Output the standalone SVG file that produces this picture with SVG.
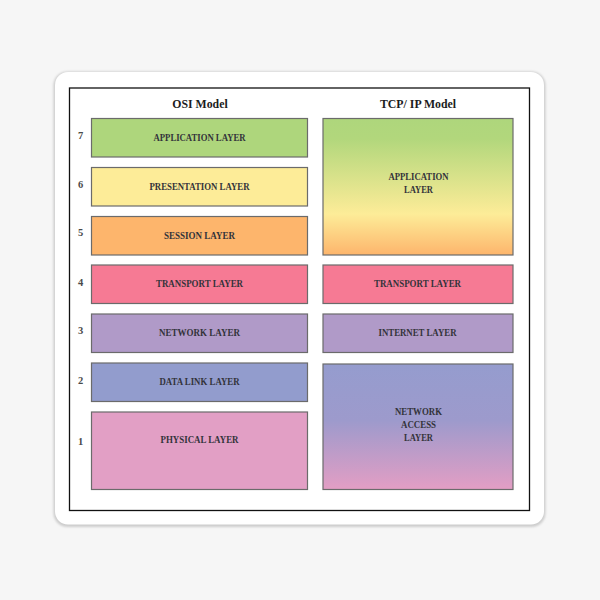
<svg xmlns="http://www.w3.org/2000/svg" width="600" height="600" viewBox="0 0 600 600">
<defs>
<linearGradient id="gApp" x1="0" y1="0" x2="0" y2="1"><stop offset="0" stop-color="#aed67c"/><stop offset="0.15" stop-color="#b2d77c"/><stop offset="0.7" stop-color="#fdec98"/><stop offset="1" stop-color="#fdb56c"/></linearGradient>
<linearGradient id="gNet" x1="0" y1="0" x2="0" y2="1"><stop offset="0" stop-color="#959cce"/><stop offset="0.45" stop-color="#9d9acc"/><stop offset="1" stop-color="#e39ec4"/></linearGradient>
<filter id="sh" x="-5%" y="-5%" width="110%" height="110%"><feGaussianBlur stdDeviation="1.2"/></filter>
</defs>
<style>
.b{stroke:#6b6b6b;stroke-width:1.2}
text{font-family:"Liberation Serif","DejaVu Serif",serif;text-anchor:middle;fill:#33333a}
.l{font-size:10.4px;font-weight:700}
.h{font-size:11.800px;font-weight:700;fill:#1c1c1c}
.n{font-size:10.500px;fill:#4a4a4a;font-weight:700}
</style>
<rect width="600" height="600" fill="#f6f6f6"/>
<rect x="53.500" y="71.500" width="492" height="455.500" rx="14" fill="#cdcdcd" filter="url(#sh)"/>
<rect x="55" y="72" width="489" height="452.500" rx="13" fill="#ffffff"/>
<rect x="69.500" y="88" width="460" height="422.500" fill="#ffffff" stroke="#111" stroke-width="1.300"/>
<text class="h" x="200" y="107.500">OSI Model</text>
<text class="h" x="418" y="107.500">TCP/ IP Model</text>
<g id="osi-7"><text class="n" x="80.500" y="139">7</text><rect class="b" x="91.500" y="118.500" width="216" height="38.500" fill="#aed67c"/><text class="l" x="199.500" y="140.500" textLength="92" lengthAdjust="spacingAndGlyphs">APPLICATION LAYER</text></g>
<g id="osi-6"><text class="n" x="80.500" y="188">6</text><rect class="b" x="91.500" y="167.500" width="216" height="38.500" fill="#fdec98"/><text class="l" x="199.500" y="189.500" textLength="100" lengthAdjust="spacingAndGlyphs">PRESENTATION LAYER</text></g>
<g id="osi-5"><text class="n" x="80.500" y="236">5</text><rect class="b" x="91.500" y="216.500" width="216" height="38.500" fill="#fdb56c"/><text class="l" x="199.500" y="238.500" textLength="71" lengthAdjust="spacingAndGlyphs">SESSION LAYER</text></g>
<g id="osi-4"><text class="n" x="80.500" y="286">4</text><rect class="b" x="91.500" y="265" width="216" height="38.500" fill="#f67a94"/><text class="l" x="199.500" y="287" textLength="87" lengthAdjust="spacingAndGlyphs">TRANSPORT LAYER</text></g>
<g id="osi-3"><text class="n" x="80.500" y="334">3</text><rect class="b" x="91.500" y="314" width="216" height="38.500" fill="#b09ac8"/><text class="l" x="199.500" y="335.500" textLength="81" lengthAdjust="spacingAndGlyphs">NETWORK LAYER</text></g>
<g id="osi-2"><text class="n" x="80.500" y="384">2</text><rect class="b" x="91.500" y="363" width="216" height="38.500" fill="#929ccd"/><text class="l" x="199.500" y="384.500" textLength="80" lengthAdjust="spacingAndGlyphs">DATA LINK LAYER</text></g>
<g id="osi-1"><text class="n" x="80.500" y="445">1</text><rect class="b" x="91.500" y="412" width="216" height="77.500" fill="#e29fc5"/><text class="l" x="199.500" y="442.500" textLength="78" lengthAdjust="spacingAndGlyphs">PHYSICAL LAYER</text></g>
<g id="tcp-app"><rect class="b" x="323" y="118.500" width="190" height="136.500" fill="url(#gApp)"/><text class="l" x="418.500" y="180" textLength="60" lengthAdjust="spacingAndGlyphs">APPLICATION</text><text class="l" x="418.500" y="192.500" textLength="29" lengthAdjust="spacingAndGlyphs">LAYER</text></g>
<g id="tcp-transport"><rect class="b" x="323" y="265" width="190" height="38.500" fill="#f67a94"/><text class="l" x="417.500" y="287" textLength="87" lengthAdjust="spacingAndGlyphs">TRANSPORT LAYER</text></g>
<g id="tcp-internet"><rect class="b" x="323" y="314" width="190" height="38.500" fill="#b09ac8"/><text class="l" x="417.500" y="335.500" textLength="78" lengthAdjust="spacingAndGlyphs">INTERNET LAYER</text></g>
<g id="tcp-network"><rect class="b" x="323" y="364" width="190" height="125.500" fill="url(#gNet)"/><text class="l" x="418.500" y="415" textLength="47" lengthAdjust="spacingAndGlyphs">NETWORK</text><text class="l" x="418.500" y="428" textLength="35" lengthAdjust="spacingAndGlyphs">ACCESS</text><text class="l" x="418.500" y="441" textLength="29" lengthAdjust="spacingAndGlyphs">LAYER</text></g>
<g id="connectors"/>
</svg>
